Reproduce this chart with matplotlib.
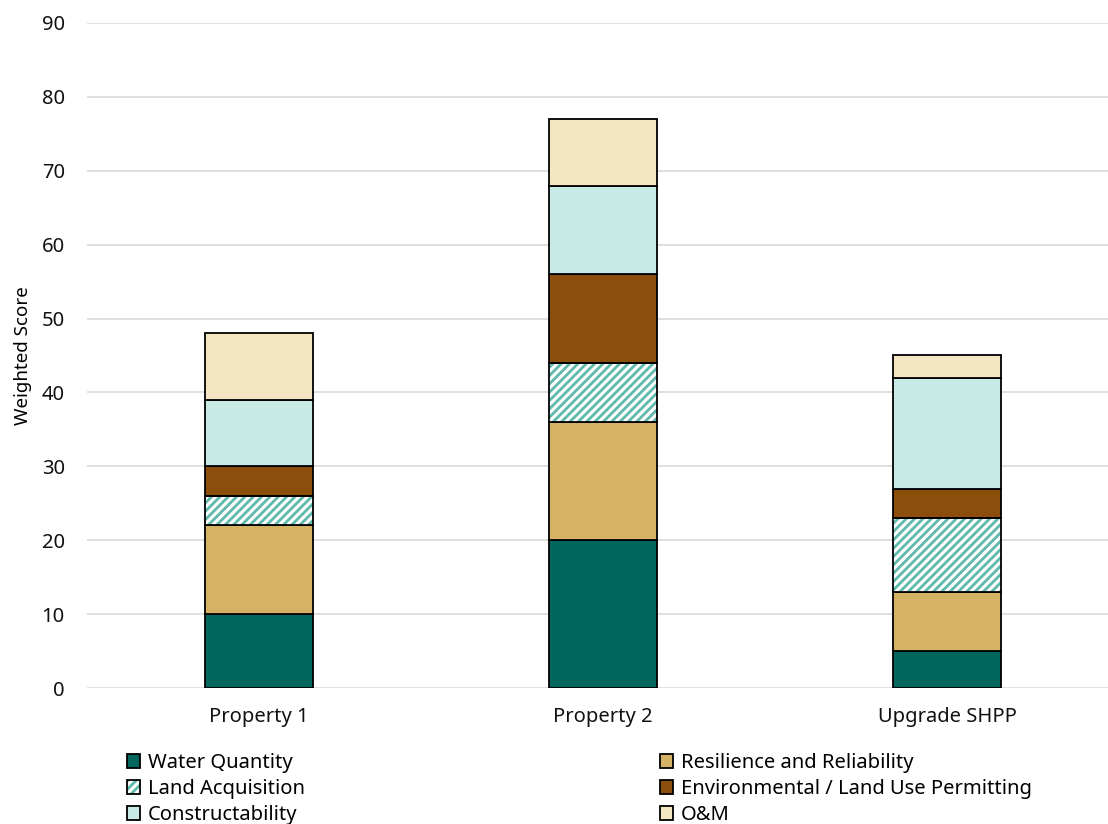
import numpy as np
import matplotlib
matplotlib.use("Agg")
import matplotlib.pyplot as plt
from matplotlib.patches import Patch
from matplotlib.legend_handler import HandlerTuple

# ---- data: weighted score per criterion for each option ----
options = ["Property 1", "Property 2", "Upgrade SHPP"]
criteria = ["Water Quantity", "Resilience and Reliability", "Land Acquisition",
            "Environmental / Land Use Permitting", "Constructability", "O&M"]
water_quantity = [10, 20, 5]
resilience = [12, 16, 8]
land_acquisition = [4, 8, 10]
env_permitting = [4, 12, 4]
constructability = [9, 12, 15]
o_and_m = [9, 9, 3]

colors = ["#00665E", "#D6B264", "#5DB9AB", "#8C4F0B", "#C9EAE4", "#F5E6C3"]
series = [water_quantity, resilience, land_acquisition,
          env_permitting, constructability, o_and_m]

plt.rcParams['font.family'] = ['Noto Sans', 'DejaVu Sans']
plt.rcParams['hatch.linewidth'] = 2.0

fig = plt.figure(figsize=(11.08, 8.24), dpi=100)
W, H = 1108, 824
ax = fig.add_axes([87 / W, 1 - 688 / H, (1119 - 87) / W, (688 - 23) / H])

x = np.arange(len(options))
width = 0.314
bottom = np.zeros(len(options))
for i, (vals, c) in enumerate(zip(series, colors)):
    vals = np.array(vals, dtype=float)
    if criteria[i] == "Land Acquisition":
        # hatched fill with teal lines, then black outline on top
        ax.bar(x, vals, width, bottom=bottom, color="white", edgecolor=c,
               hatch="////", linewidth=0, zorder=3)
        ax.bar(x, vals, width, bottom=bottom, fill=False, edgecolor="black",
               linewidth=1.3, zorder=4)
    else:
        ax.bar(x, vals, width, bottom=bottom, color=c, edgecolor="black",
               linewidth=1.3, zorder=3)
    bottom += vals

ax.set_xlim(-0.5, 2.5)
ax.set_ylim(0, 90)
ax.set_yticks(range(0, 91, 10))
ax.set_xticks(x)
ax.set_xticklabels(options)
ax.tick_params(axis="both", length=0, labelsize=14.5, colors="#111111")
ax.tick_params(axis="y", pad=16)
ax.tick_params(axis="x", pad=14)
ax.grid(axis="y", color="#D9D9D9", linewidth=1.2, zorder=0)
for s in ax.spines.values():
    s.set_visible(False)
ax.set_ylabel("Weighted Score", fontsize=13.5)
ax.yaxis.set_label_coords(-55 / 1032, 0.5)

# ---- legend: two columns of three entries ----
handles = []
for name, c in zip(criteria, colors):
    if name == "Land Acquisition":
        h = (Patch(facecolor="white", edgecolor=c, hatch="////", linewidth=0),
             Patch(fill=False, edgecolor="black", linewidth=1.3))
    else:
        h = Patch(facecolor=c, edgecolor="black", linewidth=1.3)
    handles.append(h)

leg_font = dict(size=14.5)
col_idx = [[0, 2, 4], [1, 3, 5]]
for xpos, idx in zip([127, 660], col_idx):
    leg = fig.legend([handles[k] for k in idx], [criteria[k] for k in idx],
                     loc="upper left", bbox_to_anchor=(xpos / W, 1 - 753 / H),
                     frameon=False, prop=leg_font, handlelength=0.65,
                     handleheight=0.65, handletextpad=0.4, labelspacing=0.3,
                     borderpad=0, borderaxespad=0,
                     handler_map={tuple: HandlerTuple(ndivide=1, pad=0)})

fig.savefig("out.png", dpi=100)
